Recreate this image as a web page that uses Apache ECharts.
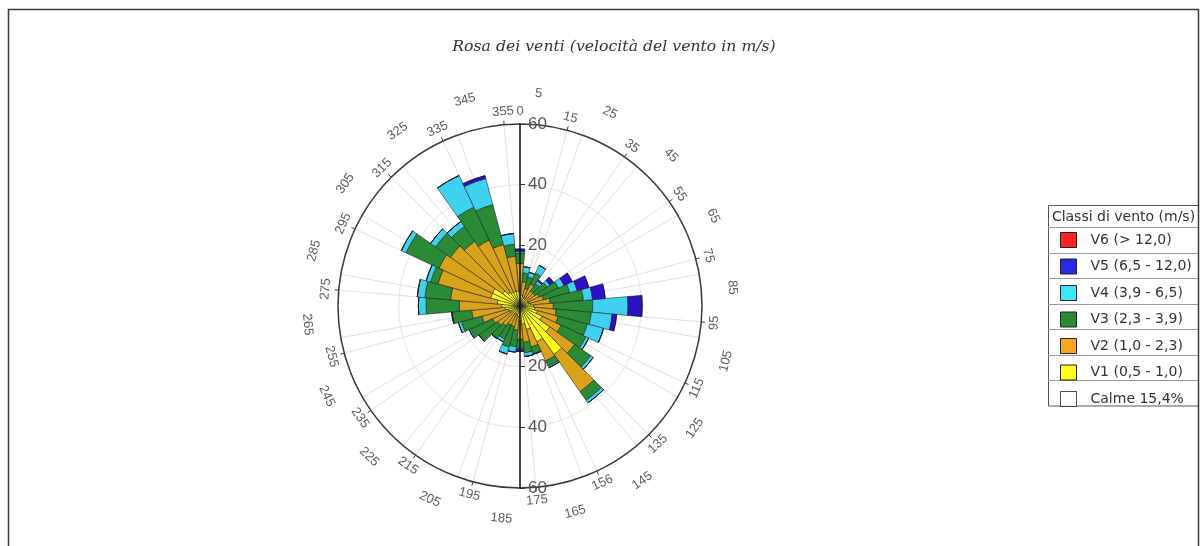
<!DOCTYPE html>
<html>
<head>
<meta charset="utf-8">
<script src="https://cdn.jsdelivr.net/npm/echarts@6/dist/echarts.min.js"></script>
<style>
  html, body { margin: 0; padding: 0; background: #ffffff; }
  #chart { width: 1203px; height: 546px; }
</style>
</head>
<body>
<div id="chart"></div>
<script>
// Wind directions (sector centres, degrees from north, clockwise)
const directions = ['0','10','20','30','40','50','60','70','80','90','100','110',
  '120','130','140','150','160','170','180','190','200','210','220','230',
  '240','250','260','270','280','290','300','310','320','330','340','350'];

// Angle tick labels on the outer circle (sector edges)
const angleTickLabels = ['5','15','25','35','45','55','65','75','85','95','105','115',
  '125','135','145','156','165','175','185','195','205','215','225','235',
  '245','255','265','275','285','295','305','315','325','335','345','355'];

// Frequency per speed class and direction
const v1 = [4.5,3.5,3,3,3,3,3,3,3.5,4.5,5,6,8,12,19.5,13,8,6,5,3.5,3,3,3,3,3.5,4,5,6,7.5,10,10,7,5.5,5,5,5];
const v2 = [9.5,4.5,3,5,3,3,4,5,6.5,6.5,7,7,7,10,15,7,6,6,6,4.5,4,4,5,6,6.5,9,11,14,15.5,18,19.5,21,20.5,19,16,11.5];
const v3 = [3.5,3,4,4,3,5,7,9,11,13,11.6,10,9,6.5,3.5,2,2.3,3.5,3,5.5,7,5,5,7.5,8,7,6.5,11,8.5,2.5,12,6,6,12,13.6,4];
const v4 = [0.5,2,1.5,2.8,1,1,2,2.5,3,11.6,6.9,5.5,1,1,1,0.5,0.2,1.2,0.3,1.8,2.4,1,0.2,0.1,0.5,1,0.1,2.5,2.5,1.5,1.7,2,2,11.5,8.9,3.5];
const v5 = [0.8,0,0,0,0.5,1.5,3,4,4.2,4.7,1.5,0,0,0,0,0,0,0,0.7,0,0,0,0,0,0,0,0,0,0,0,0,0,0,0,1,0];
const v6 = [0,0,0,0,0,0,0,0,0,0,0,0,0,0,0,0,0,0,0,0,0,0,0,0,0,0,0,0,0,0,0,0,0,0,0,0];

const classNames = ['V1 (0,5 - 1,0)','V2 (1,0 - 2,3)','V3 (2,3 - 3,9)','V4 (3,9 - 6,5)','V5 (6,5 - 12,0)','V6 (> 12,0)'];
const calmName = 'Calme 15,4%';
const radiusTicks = [0, 20, 40, 60];

const classColors = ['#ffff1e','#d9a21b','#2b8a34','#3fd2f0','#2c12c4','#ff2424'];
const legendColors = ['#ffff1e','#f5a623','#2b8a34','#3fe6f5','#2a2ae0','#ff2424'];

const CX = 520, CY = 306, R = 182;
const outerText = { near: 64.3, far: 70.3 };

const chart = echarts.init(document.getElementById('chart'), null, { renderer: 'canvas' });

const hiddenAngle = {
  axisLine: { show: false }, axisTick: { show: false },
  axisLabel: { show: false }, splitLine: { show: false }
};
const radiusRange = { type: 'value', min: radiusTicks[0], max: radiusTicks[radiusTicks.length - 1], interval: 20 };

const barSeries = [v1, v2, v3, v4, v5, v6].map((vals, k) => ({
  type: 'bar',
  name: classNames[k],
  coordinateSystem: 'polar',
  polarIndex: 0,
  stack: 'rosa',
  data: vals,
  barCategoryGap: '0%',
  itemStyle: { color: classColors[k], borderColor: 'rgba(20,20,30,0.85)', borderWidth: 0.6 },
  z: 3
}));

// keep the outer labels readable: tangential, flipped on the lower half
function tangentRotation(deg) {
  let r = -deg;
  if (deg > 90 && deg < 270) r += 180;
  return r;
}

const labelSeries = {
  type: 'scatter',
  coordinateSystem: 'polar',
  polarIndex: 3,
  clip: false,
  silent: true,
  symbolSize: 0,
  data: angleTickLabels.map((t, i) => ({
    value: [i % 2 ? outerText.near : outerText.far, i],
    label: { rotate: tangentRotation(5 + 10 * i) }
  })),
  label: {
    show: true, position: 'inside',
    formatter: p => angleTickLabels[p.dataIndex],
    fontFamily: 'Liberation Sans', fontSize: 13, color: '#333'
  },
  z: 4
};

const zeroLabel = {
  type: 'scatter',
  coordinateSystem: 'polar',
  polarIndex: 1,
  clip: false,
  silent: true,
  symbolSize: 0,
  data: [[outerText.near, 0]],
  label: {
    show: true, position: 'inside', formatter: '0',
    fontFamily: 'Liberation Sans', fontSize: 13, color: '#333'
  },
  z: 4
};

const calmSeries = {
  type: 'scatter',
  name: calmName,
  coordinateSystem: 'polar',
  polarIndex: 3,
  data: [],
  itemStyle: { color: '#ffffff', borderColor: '#222', borderWidth: 1 }
};

const radiusLabelStyle = {
  fontFamily: 'Liberation Sans', fontSize: 17, color: '#555',
  formatter: v => (v === 0 ? '' : String(v))
};

const legendTop = 205, headerH = 22, rowH = 25.5, legendLeft = 1048, legendW = 150;
const legendRows = 7;
const legendGraphics = [
  { type: 'rect', shape: { x: 8.5, y: 9.5, width: 1190, height: 545 },
    style: { fill: null, stroke: '#3a3a3a', lineWidth: 1.5 }, silent: true },
  { type: 'rect', shape: { x: legendLeft + 0.5, y: legendTop + 0.5, width: legendW, height: headerH + legendRows * rowH },
    style: { fill: '#ffffff', stroke: '#555', lineWidth: 1 }, silent: true, z: -1 },
  { type: 'text', x: legendLeft + legendW / 2 + 0.5, y: legendTop + headerH / 2 + 1,
    style: { text: 'Classi di vento (m/s)', fontFamily: 'DejaVu Sans', fontSize: 14, fill: '#333',
      align: 'center', verticalAlign: 'middle' }, silent: true }
];
for (let k = 0; k < legendRows; k++) {
  const y = Math.round(legendTop + headerH + k * rowH) + 0.5;
  legendGraphics.push({ type: 'line', shape: { x1: legendLeft, y1: y, x2: legendLeft + legendW, y2: y },
    style: { stroke: '#9a9a9a', lineWidth: 1 }, silent: true });
}

const option = {
  backgroundColor: '#ffffff',
  animation: false,
  title: {
    text: 'Rosa dei venti (velocità del vento in m/s)',
    left: 609, top: 34, textAlign: 'center',
    textStyle: { fontFamily: 'DejaVu Serif', fontStyle: 'italic', fontWeight: 'normal', fontSize: 15.7, color: '#333' }
  },
  polar: [
    { center: [CX, CY], radius: R },
    { center: [CX, CY], radius: R },
    { center: [CX, CY], radius: R },
    { center: [CX, CY], radius: R }
  ],
  angleAxis: [
    { polarIndex: 0, type: 'category', data: directions, startAngle: 95, clockwise: true, boundaryGap: true,
      axisLine: { show: true, lineStyle: { color: '#3a3a3a', width: 1.5 } },
      axisTick: { show: true, length: 4, lineStyle: { color: '#3a3a3a' } },
      axisLabel: { show: false },
      splitLine: { show: true, lineStyle: { color: '#e0e0e0', width: 1 } } },
    Object.assign({ polarIndex: 1, type: 'category', data: directions, startAngle: 90, clockwise: true, boundaryGap: false },
      hiddenAngle, { splitLine: { show: true, lineStyle: { color: '#e0e0e0', width: 1 } } }),
    Object.assign({ polarIndex: 2, type: 'category', data: directions, startAngle: 270, clockwise: true, boundaryGap: false }, hiddenAngle),
    Object.assign({ polarIndex: 3, type: 'category', data: angleTickLabels, startAngle: 85, clockwise: true, boundaryGap: false }, hiddenAngle)
  ],
  radiusAxis: [
    Object.assign({ polarIndex: 0 }, radiusRange, {
      axisLine: { show: false }, axisTick: { show: false }, axisLabel: { show: false },
      splitLine: { show: true, lineStyle: { color: '#e4e4e4', width: 1 } } }),
    Object.assign({ polarIndex: 1 }, radiusRange, {
      axisLine: { show: true, lineStyle: { color: '#111', width: 1.5 } },
      axisTick: { show: true, length: -5, lineStyle: { color: '#333' } },
      axisLabel: Object.assign({ margin: -8, align: 'left' }, radiusLabelStyle),
      splitLine: { show: false }, z: 10 }),
    Object.assign({ polarIndex: 2 }, radiusRange, {
      axisLine: { show: true, lineStyle: { color: '#111', width: 1.5 } },
      axisTick: { show: true, length: 5, lineStyle: { color: '#333' } },
      axisLabel: Object.assign({ margin: 8 }, radiusLabelStyle),
      splitLine: { show: false }, z: 10 }),
    Object.assign({ polarIndex: 3 }, radiusRange, {
      axisLine: { show: false }, axisTick: { show: false }, axisLabel: { show: false }, splitLine: { show: false } })
  ],
  legend: {
    orient: 'vertical', left: legendLeft + 12, top: legendTop + headerH + 5,
    padding: 0,
    itemWidth: 16, itemHeight: 15, itemGap: 10.5,
    selectedMode: false,
    data: [classNames[5], classNames[4], classNames[3], classNames[2], classNames[1], classNames[0], calmName]
      .map((n, k) => ({ name: n, icon: 'rect',
        itemStyle: k < 6 ? { color: legendColors[5 - k] } : { color: '#ffffff' } })),
    itemStyle: { borderColor: '#222', borderWidth: 1 },
    textStyle: { fontFamily: 'DejaVu Sans', fontSize: 14, color: '#333', lineHeight: 15, padding: [0, 0, 0, 9] }
  },
  graphic: legendGraphics,
  series: barSeries.concat([calmSeries, labelSeries, zeroLabel])
};

chart.setOption(option);
</script>
</body>
</html>
